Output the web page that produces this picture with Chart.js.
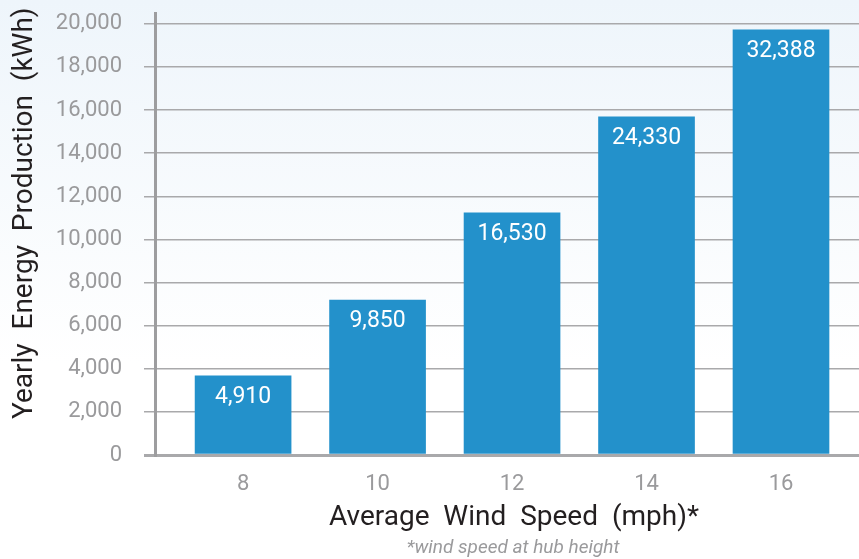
<!DOCTYPE html>
<html>
<head>
<meta charset="utf-8">
<script src="https://cdn.jsdelivr.net/npm/chart.js@4/dist/chart.umd.min.js"></script>
<style>
  html, body { margin: 0; padding: 0; }
  body { width: 859px; height: 559px; background: linear-gradient(#eef5fb 0%, #ffffff 65%); }
  #wrap { position: relative; width: 859px; height: 559px; }
</style>
</head>
<body>
<div id="wrap"><canvas id="windChart" width="859" height="559"></canvas></div>
<script>
const windSpeeds = [8, 10, 12, 14, 16];
const barHeights = [3670, 7190, 11230, 15680, 19720]; // bar heights as drawn
const barLabels = ['4,910', '9,850', '16,530', '24,330', '32,388'];
const yTicks = [0, 2000, 4000, 6000, 8000, 10000, 12000, 14000, 16000, 18000, 20000];
const footNote = '*wind speed at hub height';

const FONT = '"Roboto", sans-serif';
const GRID = '#a9a9ab';

// white value labels inside the bar tops + footnote under the axis title
const barText = {
    id: 'barText',
    afterDatasetsDraw(chart) {
        const ctx = chart.ctx;
        const meta = chart.getDatasetMeta(0);
        ctx.save();
        ctx.fillStyle = '#ffffff';
        ctx.font = '23px ' + FONT;
        ctx.textAlign = 'center';
        ctx.textBaseline = 'middle';
        meta.data.forEach((bar, i) => {
            ctx.fillText(barLabels[i], bar.x, bar.y + 21);
        });
        ctx.restore();
    },
    afterDraw(chart) {
        const ctx = chart.ctx;
        const area = chart.chartArea;
        ctx.save();
        ctx.fillStyle = '#9a9a9c';
        ctx.font = 'italic 19px ' + FONT;
        ctx.textAlign = 'center';
        ctx.textBaseline = 'middle';
        ctx.fillText(footNote, (area.left + area.right) / 2 + 6, chart.height - 11);
        ctx.restore();
    }
};

const ctx = document.getElementById('windChart').getContext('2d');
const chart = new Chart(ctx, {
    type: 'bar',
    data: {
        datasets: [{
            data: windSpeeds.map((w, i) => ({ x: w, y: barHeights[i] })),
            backgroundColor: '#2391cb',
            barThickness: 96,
            borderWidth: 0
        }]
    },
    options: {
        responsive: false,
        animation: false,
        devicePixelRatio: 1,
        layout: { padding: { top: 13, left: 0, right: 0, bottom: 21.6 } },
        plugins: {
            legend: { display: false },
            tooltip: { enabled: false }
        },
        scales: {
            x: {
                type: 'linear',
                offset: false,
                min: 6.69,
                max: 17.16,
                afterBuildTicks: (scale) => { scale.ticks = windSpeeds.map(v => ({ value: v })); },
                afterFit: (scale) => { scale.height = 82.4; },
                grid: { display: false, offset: false },
                border: { display: false },
                ticks: {
                    color: '#9a9a9c',
                    font: { family: FONT, size: 22 },
                    padding: 8
                },
                title: {
                    display: true,
                    text: '  Average  Wind  Speed  (mph)*',
                    color: '#231f20',
                    font: { family: FONT, size: 28 },
                    padding: { top: 0, bottom: 3 }
                }
            },
            y: {
                min: 0,
                max: 20500,
                afterBuildTicks: (scale) => { scale.ticks = yTicks.map(v => ({ value: v })); },
                afterFit: (scale) => {
                    scale.width = 155;
                    scale.paddingTop = 0;
                    scale.paddingBottom = 0;
                },
                grid: {
                    color: GRID,
                    lineWidth: (c) => c.tick && c.tick.value === 0 ? 3 : 1.5,
                    tickLength: 11,
                    drawTicks: true
                },
                border: { display: true, color: '#9d9d9f', width: 3 },
                ticks: {
                    color: '#9a9a9c',
                    font: { family: FONT, size: 22 },
                    padding: 22,
                    callback: (v) => v.toLocaleString('en-US')
                },
                title: {
                    display: true,
                    text: '      Yearly  Energy  Production  (kWh)',
                    color: '#231f20',
                    font: { family: FONT, size: 28 },
                    padding: { top: 8, bottom: 0 }
                }
            }
        }
    },
    plugins: [barText]
});
</script>
</body>
</html>
